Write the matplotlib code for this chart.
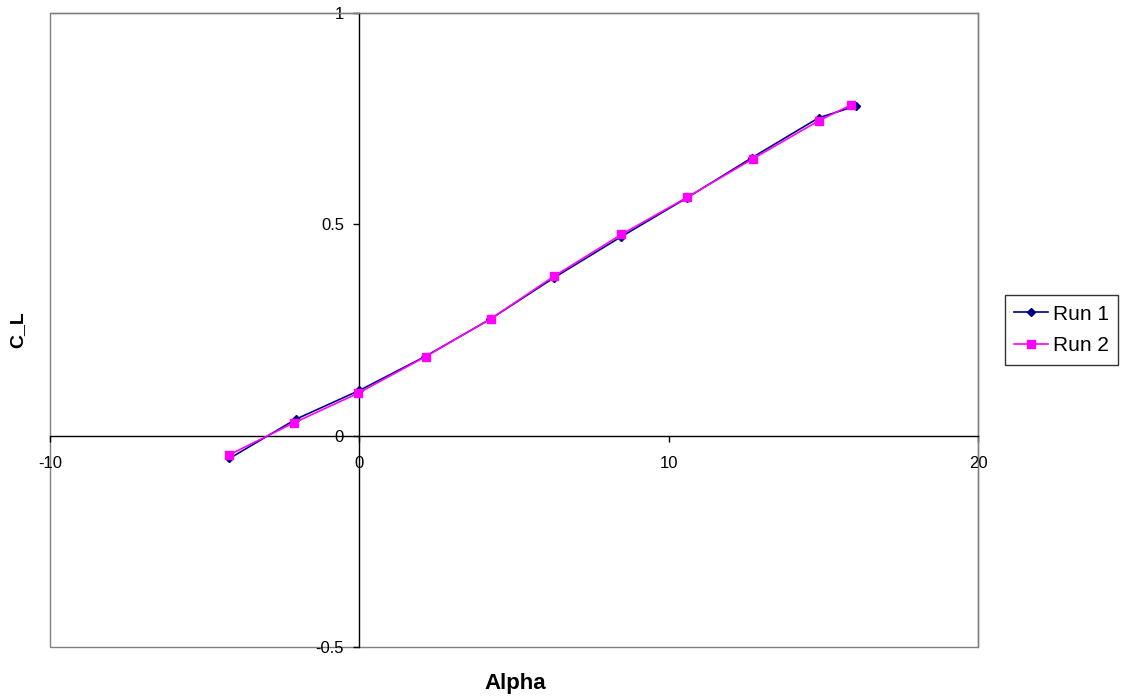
import matplotlib
matplotlib.use("Agg")
import matplotlib.pyplot as plt
from matplotlib.patches import Rectangle

plt.rcParams['font.family'] = ['Liberation Sans', 'DejaVu Sans']

run1_x = [-4.2, -2.05, 0.0, 2.12, 4.24, 6.3, 8.45, 10.6, 12.7, 14.85, 16.05]
run1_y = [-0.054, 0.039, 0.107, 0.187, 0.276, 0.374, 0.470, 0.563, 0.658, 0.752, 0.780]
run2_x = [-4.2, -2.1, -0.05, 2.14, 4.26, 6.29, 8.47, 10.6, 12.72, 14.85, 15.88]
run2_y = [-0.045, 0.031, 0.100, 0.187, 0.277, 0.377, 0.476, 0.564, 0.655, 0.745, 0.782]

x_ticks = [-10, 0, 10, 20]
y_ticks = [-0.5, 0, 0.5, 1]
y_tick_labels = ['-0.5', '0', '0.5', '1']

W, H = 1122, 700
fig = plt.figure(figsize=(W / 100, H / 100), dpi=100)
ax = fig.add_axes([50 / W, (H - 647) / H, 928 / W, 634 / H])

ax.plot(run1_x, run1_y, color='#000080', marker='D', markersize=4.5, lw=1.2, label='Run 1', zorder=3)
ax.plot(run2_x, run2_y, color='#FF00FF', marker='s', markersize=6, lw=1.2, label='Run 2', zorder=4)

ax.set_xlim(-10, 20)
ax.set_ylim(-0.5, 1)

for s in ['left', 'bottom']:
    ax.spines[s].set_position('zero')
    ax.spines[s].set_color('black')
    ax.spines[s].set_linewidth(1.0)
for s in ['top', 'right']:
    ax.spines[s].set_color('#808080')
    ax.spines[s].set_linewidth(1.0)
ax.add_patch(Rectangle((0, 0), 1, 1, transform=ax.transAxes, fill=False,
                       edgecolor='#808080', lw=1.0, zorder=0, clip_on=False))

ax.set_xticks(x_ticks)
ax.set_xticklabels([str(v) for v in x_ticks])
ax.set_yticks(y_ticks)
ax.set_yticklabels(y_tick_labels)
ax.tick_params(axis='both', direction='out', length=4, width=1, labelsize=12, colors='black')
ax.tick_params(axis='x', pad=11)
ax.tick_params(axis='y', pad=7)

fig.text(515 / W, 1 - 683 / H, 'Alpha', fontsize=16, fontweight='bold', ha='center', va='center')
fig.text(18 / W, 1 - 330 / H, 'C_L', fontsize=14, fontweight='bold', ha='center', va='center', rotation=90)

leg = fig.legend(loc='center left', bbox_to_anchor=(1005 / W, 1 - 330 / H), fontsize=15,
                 frameon=True, fancybox=False, edgecolor='black', borderpad=0.45,
                 handlelength=1.6, labelspacing=0.6, handletextpad=0.25, borderaxespad=0)
leg.get_frame().set_linewidth(1.0)

fig.savefig('out.png', dpi=100)
